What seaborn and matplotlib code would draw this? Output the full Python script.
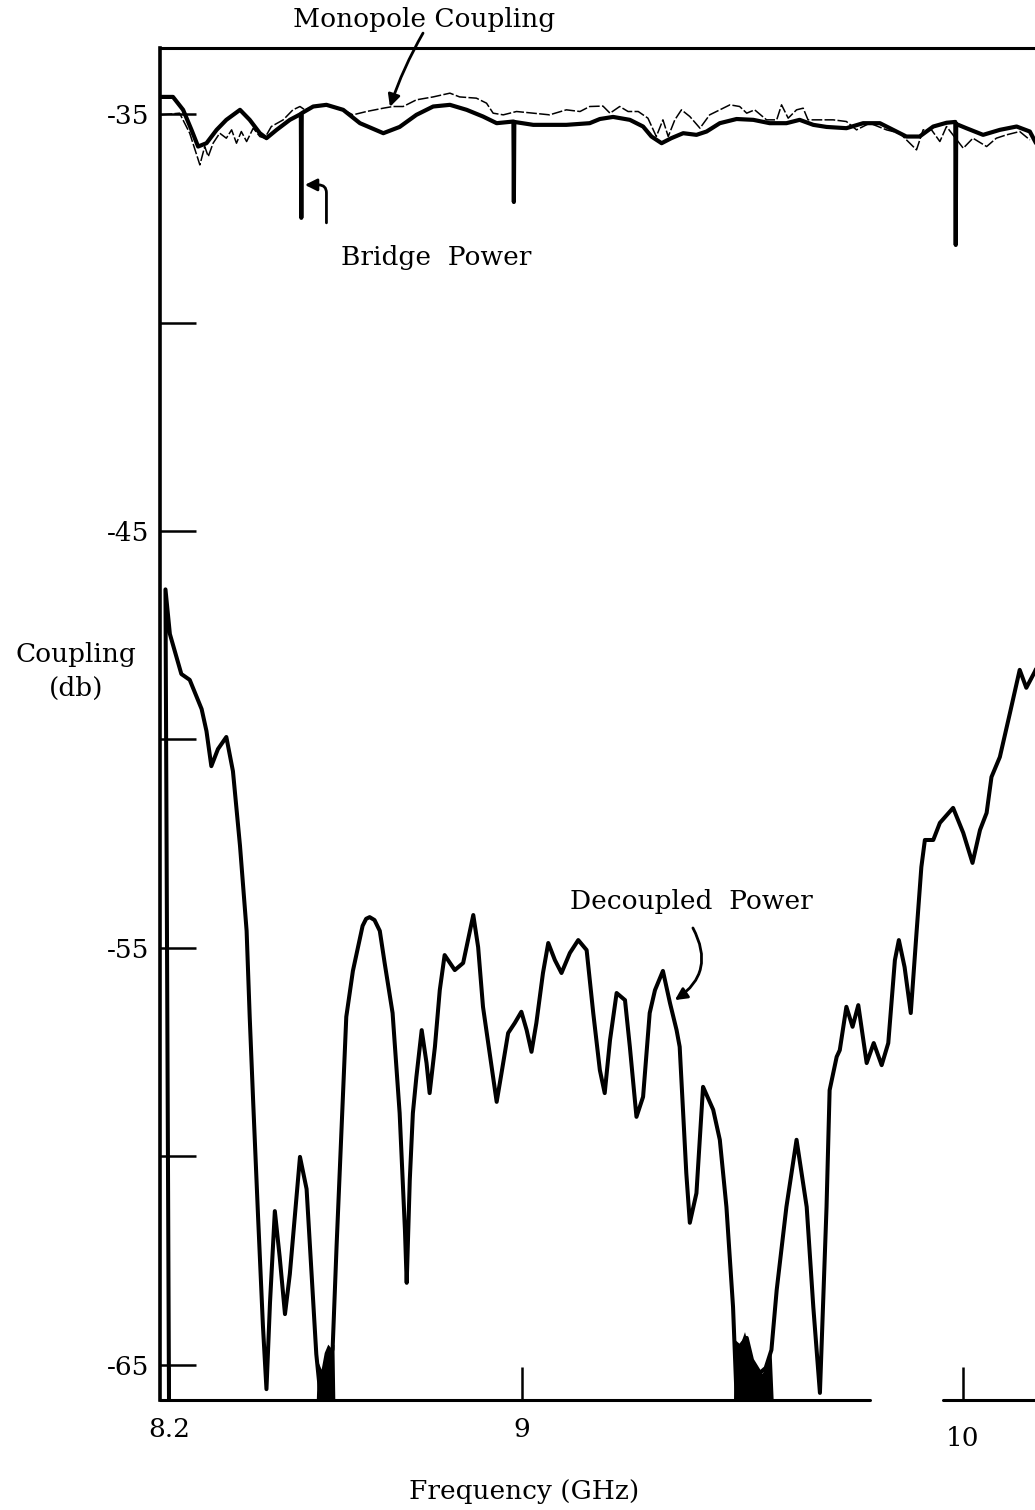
import matplotlib
matplotlib.use("Agg")
import matplotlib.pyplot as plt
import pandas as pd
import seaborn as sns
from matplotlib.transforms import ScaledTranslation

# ---- Decoupled power trace (frequency in GHz, coupling in dB) ----
decoupled_freq = [
    8.200, 8.192, 8.202, 8.228, 8.247, 8.274, 8.285, 8.296, 8.311, 8.330,
    8.345, 8.361, 8.376, 8.383, 8.391, 8.402, 8.413, 8.421, 8.429, 8.440,
    8.451, 8.463, 8.474, 8.497, 8.512, 8.534, 8.542, 8.571, 8.580, 8.591,
    8.602, 8.617, 8.639, 8.647, 8.655, 8.666, 8.678, 8.689, 8.707, 8.723, 8.735, 8.739,
    8.746, 8.753, 8.761, 8.773, 8.784, 8.791, 8.803, 8.814, 8.825, 8.848,
    8.867, 8.878, 8.890, 8.901, 8.912, 8.927, 8.943, 8.954, 8.969, 8.984,
    8.999, 9.011, 9.022, 9.033, 9.048, 9.060, 9.075, 9.090, 9.109, 9.128,
    9.147, 9.162, 9.177, 9.188, 9.200, 9.215, 9.234, 9.245, 9.260, 9.275,
    9.290, 9.302, 9.320, 9.336, 9.351, 9.358, 9.373, 9.381, 9.396, 9.411,
    9.434, 9.449, 9.464, 9.479, 9.487, 9.497, 9.510, 9.522, 9.540, 9.553,
    9.566, 9.578, 9.600, 9.623, 9.646, 9.661, 9.676, 9.683, 9.691, 9.698,
    9.714, 9.721, 9.736, 9.750, 9.763, 9.782, 9.798, 9.816, 9.831, 9.846,
    9.855, 9.868, 9.882, 9.895, 9.906, 9.914, 9.933, 9.948, 9.978, 10.001,
    10.022, 10.039, 10.054, 10.065, 10.084, 10.107, 10.129, 10.144, 10.163, 10.175,
]
decoupled_db = [
    -65.84, -46.40, -47.47, -48.43, -48.57, -49.27, -49.80, -50.64, -50.23, -49.94,
    -50.76, -52.55, -54.59, -56.65, -58.72, -61.45, -64.06, -65.58, -63.51, -61.31,
    -62.41, -63.78, -62.82, -60.01, -60.78, -64.74, -65.58, -64.62, -62.15, -59.39,
    -56.65, -55.55, -54.47, -54.30, -54.26, -54.33, -54.59, -55.36, -56.56, -58.96, -61.76, -63.03,
    -60.56, -58.96, -58.09, -56.97, -57.76, -58.48, -57.37, -56.01, -55.17, -55.53,
    -55.36, -54.81, -54.21, -54.98, -56.41, -57.52, -58.69, -58.00, -57.04, -56.80,
    -56.53, -56.97, -57.49, -56.80, -55.60, -54.88, -55.29, -55.60, -55.12, -54.81,
    -55.05, -56.56, -57.93, -58.48, -57.21, -56.08, -56.25, -57.37, -59.05, -58.57,
    -56.56, -56.01, -55.55, -56.32, -56.97, -57.37, -60.40, -61.59, -60.88, -58.33,
    -58.88, -59.60, -61.21, -63.61, -65.77, -64.52, -64.35, -64.88, -65.19, -65.07,
    -64.64, -63.20, -61.21, -59.60, -61.21, -63.61, -65.67, -63.61, -61.21, -58.41,
    -57.61, -57.45, -56.41, -56.89, -56.37, -57.76, -57.28, -57.81, -57.28, -55.29,
    -54.81, -55.46, -56.56, -54.64, -53.06, -52.41, -52.41, -52.00, -51.64, -52.24,
    -52.96, -52.17, -51.76, -50.90, -50.42, -49.36, -48.33, -48.76, -48.38, -48.10,
]

# Noise-filled stretches of the decoupled trace near the floor
noise1_freq = [8.534, 8.537, 8.545, 8.552, 8.560, 8.568, 8.574, 8.576]
noise1_top = [-65.84, -64.9, -65.1, -64.7, -64.5, -64.6, -64.5, -65.84]
noise2_freq = [9.480, 9.484, 9.495, 9.505, 9.515, 9.525, 9.535, 9.545, 9.555, 9.565, 9.570]
noise2_top = [-65.84, -64.4, -64.5, -64.2, -64.6, -64.9, -65.1, -65.2, -65.0, -64.6, -65.84]

# ---- Bridge power trace (with the three marker spikes) ----
bridge_freq = [
    8.183, 8.209, 8.232, 8.251, 8.266, 8.285, 8.308, 8.330, 8.361, 8.383,
    8.406, 8.421, 8.444, 8.474, 8.499, 8.500, 8.501, 8.527, 8.557, 8.595,
    8.633, 8.686, 8.723, 8.761, 8.799, 8.837, 8.875, 8.912, 8.943, 8.981,
    8.982, 8.983, 9.026, 9.101, 9.154, 9.177, 9.207, 9.245, 9.275, 9.294,
    9.317, 9.339, 9.366, 9.396, 9.419, 9.449, 9.487, 9.525, 9.562, 9.600,
    9.630, 9.661, 9.691, 9.736, 9.774, 9.812, 9.842, 9.872, 9.902, 9.933,
    9.963, 9.983, 9.984, 9.985, 10.008, 10.046, 10.084, 10.122, 10.152, 10.168,
]
bridge_db = [
    -34.59, -34.59, -34.90, -35.38, -35.78, -35.70, -35.38, -35.14, -34.90, -35.14,
    -35.46, -35.58, -35.38, -35.14, -35.00, -37.49, -34.98, -34.82, -34.78, -34.90,
    -35.22, -35.46, -35.31, -35.02, -34.82, -34.78, -34.90, -35.06, -35.22, -35.18,
    -37.11, -35.19, -35.26, -35.26, -35.22, -35.12, -35.07, -35.14, -35.30, -35.54,
    -35.70, -35.58, -35.46, -35.50, -35.42, -35.22, -35.12, -35.14, -35.22, -35.22,
    -35.14, -35.26, -35.31, -35.34, -35.22, -35.22, -35.38, -35.54, -35.54, -35.30,
    -35.21, -35.19, -38.14, -35.24, -35.34, -35.50, -35.38, -35.30, -35.42, -35.74,
]

# ---- Monopole coupling trace ----
monopole_freq = [
    8.183, 8.224, 8.247, 8.270, 8.281, 8.289, 8.300, 8.315, 8.330, 8.342,
    8.353, 8.364, 8.376, 8.391, 8.406, 8.417, 8.432, 8.459, 8.481, 8.497,
    8.508, 8.527, 8.557, 8.595, 8.617, 8.648, 8.686, 8.708, 8.731, 8.761,
    8.799, 8.837, 8.859, 8.897, 8.920, 8.935, 8.958, 8.988, 9.026, 9.063,
    9.101, 9.132, 9.154, 9.184, 9.200, 9.222, 9.241, 9.264, 9.286, 9.305,
    9.320, 9.332, 9.347, 9.362, 9.381, 9.404, 9.426, 9.449, 9.472, 9.494,
    9.510, 9.528, 9.555, 9.578, 9.589, 9.604, 9.623, 9.638, 9.649, 9.676,
    9.706, 9.736, 9.759, 9.789, 9.827, 9.857, 9.895, 9.910, 9.929, 9.948,
    9.963, 10.001, 10.023, 10.054, 10.076, 10.099, 10.129, 10.152,
]
monopole_db = [
    -35.02, -34.98, -35.46, -36.22, -35.78, -36.02, -35.70, -35.46, -35.58, -35.38,
    -35.70, -35.42, -35.66, -35.34, -35.54, -35.58, -35.30, -35.14, -34.90, -34.82,
    -34.90, -34.82, -34.78, -34.90, -35.02, -34.94, -34.86, -34.82, -34.82, -34.66,
    -34.59, -34.50, -34.59, -34.62, -34.74, -34.98, -35.02, -34.94, -34.98, -35.02,
    -34.90, -34.94, -34.82, -34.81, -34.98, -34.82, -34.94, -34.94, -35.10, -35.54,
    -35.14, -35.54, -35.14, -34.90, -35.06, -35.34, -35.02, -34.90, -34.78, -34.82,
    -34.98, -34.90, -35.14, -35.14, -34.78, -35.10, -34.90, -34.86, -35.14, -35.14,
    -35.14, -35.18, -35.38, -35.22, -35.38, -35.46, -35.86, -35.38, -35.38, -35.66,
    -35.30, -35.82, -35.58, -35.78, -35.58, -35.50, -35.42, -35.62,
]

# ---- Axis ticks ----
ytick_values = [-65, -60, -55, -50, -45, -40, -35]
ytick_labels = ["-65", "", "-55", "", "-45", "", "-35"]
xtick_values = [8.2, 9, 10]
xtick_labels = ["8.2", "9", "10"]

X_MIN, X_MAX = 8.1796, 10.1637
Y_MIN, Y_MAX = -65.84, -33.405

sns.set_theme(style="white")
plt.rcParams["font.family"] = ["DejaVu Serif", "DejaVu Sans"]

W, H = 1035, 1510
fig = plt.figure(figsize=(W / 100, H / 100), dpi=100)
fig.patch.set_facecolor("white")
ax = fig.add_axes([160 / W, 110 / H, 875 / W, 1352.5 / H])
ax.set_facecolor("white")

decoupled = pd.DataFrame({"freq": decoupled_freq, "db": decoupled_db})
bridge = pd.DataFrame({"freq": bridge_freq, "db": bridge_db})
monopole = pd.DataFrame({"freq": monopole_freq, "db": monopole_db})

sns.lineplot(data=monopole, x="freq", y="db", sort=False, estimator=None,
             color="black", lw=1.1, ax=ax, linestyle=(0, (7, 1.5)))
sns.lineplot(data=bridge, x="freq", y="db", sort=False, estimator=None,
             color="black", lw=3.0, ax=ax)
sns.lineplot(data=decoupled, x="freq", y="db", sort=False, estimator=None,
             color="black", lw=2.9, ax=ax)
ax.fill_between(noise1_freq, noise1_top, Y_MIN, color="black", lw=0)
ax.fill_between(noise2_freq, noise2_top, Y_MIN, color="black", lw=0)

ax.set_xlim(X_MIN, X_MAX)
ax.set_ylim(Y_MIN, Y_MAX)
ax.set_xlabel("")
ax.set_ylabel("")

ax.set_yticks(ytick_values)
ax.set_yticklabels(ytick_labels)
ax.set_xticks(xtick_values)
ax.set_xticklabels(xtick_labels)
ax.tick_params(axis="y", left=True, direction="in", length=26, width=1.8,
               color="black", labelsize=19, pad=8, labelcolor="black")
ax.tick_params(axis="x", bottom=True, direction="in", length=24, width=1.8,
               color="black", labelsize=19, pad=12, labelcolor="black")
for lab in ax.get_xticklabels():
    if lab.get_text() == "10":
        lab.set_transform(lab.get_transform()
                          + ScaledTranslation(0, -0.09, fig.dpi_scale_trans))

# Frame: left and top spines, bottom line with a gap, open right side
for side in ("right", "bottom"):
    ax.spines[side].set_visible(False)
ax.spines["left"].set_linewidth(2.6)
ax.spines["top"].set_linewidth(2.2)
ax.spines["left"].set_color("black")
ax.spines["top"].set_color("black")
ax.axhline(Y_MIN, xmin=0, xmax=0.811, color="black", lw=2.2, clip_on=False)
ax.axhline(Y_MIN, xmin=0.895, xmax=1.0, color="black", lw=2.2, clip_on=False)

# Trace labels and pointers
txt = dict(ha="center", va="center", fontsize=19, color="black")
fig.text(424 / W, 1 - 20 / H, "Monopole Coupling", **txt)
fig.text(436 / W, 1 - 257 / H, "Bridge  Power", **txt)
fig.text(691 / W, 1 - 902 / H, "Decoupled  Power", **txt)
fig.text(76 / W, 1 - 671 / H, "Coupling\n(db)", linespacing=1.45, **txt)
fig.text(524 / W, 1 - 1492 / H, "Frequency (GHz)", **txt)

arrow = dict(arrowstyle="-|>", color="black", lw=2.0, mutation_scale=18,
             shrinkA=0, shrinkB=0)
ax.annotate("", xy=(8.701, -34.83), xytext=(8.776, -33.06),
            arrowprops=dict(connectionstyle="arc3,rad=0.05", **arrow),
            annotation_clip=False)
ax.annotate("", xy=(8.508, -36.70), xytext=(8.557, -37.61),
            arrowprops=dict(connectionstyle="angle,angleA=90,angleB=0,rad=8",
                            **arrow),
            annotation_clip=False)
ax.annotate("", xy=(9.347, -56.25), xytext=(9.388, -54.52),
            arrowprops=dict(connectionstyle="arc3,rad=-0.45", **arrow),
            annotation_clip=False)

fig.savefig("out.png", dpi=100, facecolor="white")
